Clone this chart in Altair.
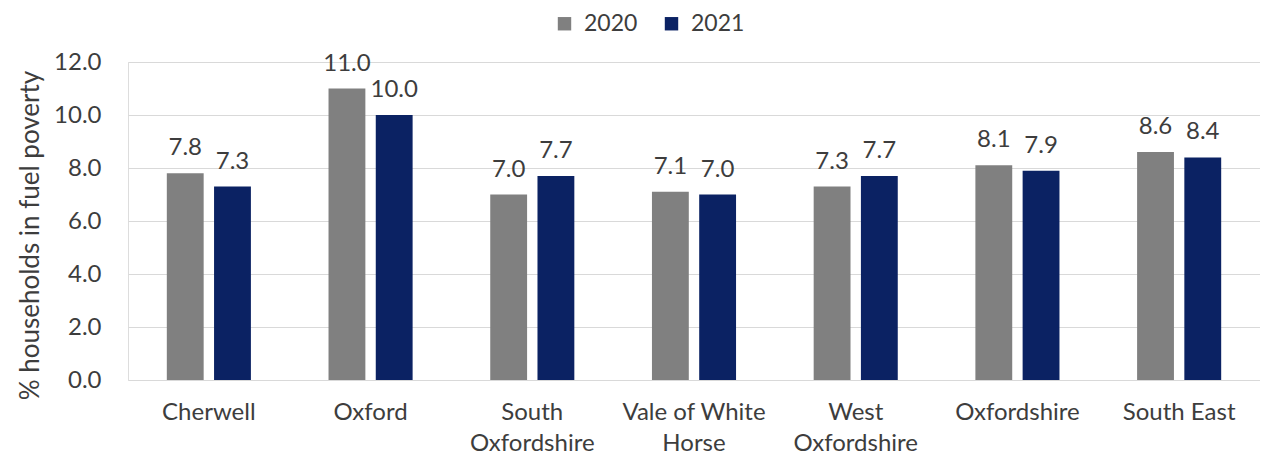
import altair as alt
import pandas as pd

categories = ["Cherwell", "Oxford", "South Oxfordshire", "Vale of White Horse",
              "West Oxfordshire", "Oxfordshire", "South East"]
years = ["2020", "2021"]
values_2020 = [7.8, 11.0, 7.0, 7.1, 7.3, 8.1, 8.6]
values_2021 = [7.3, 10.0, 7.7, 7.0, 7.7, 7.9, 8.4]
y_ticks = [0, 2, 4, 6, 8, 10, 12]

rows = []
for c, a, b in zip(categories, values_2020, values_2021):
    rows.append({"area": c, "year": "2020", "value": a})
    rows.append({"area": c, "year": "2021", "value": b})
df = pd.DataFrame(rows)

FONT = "Lato"
TXT = "#3d3d3d"
label_expr = ("datum.label == 'South Oxfordshire' ? ['South', 'Oxfordshire'] : "
              "datum.label == 'Vale of White Horse' ? ['Vale of White', 'Horse'] : "
              "datum.label == 'West Oxfordshire' ? ['West', 'Oxfordshire'] : datum.label")

x = alt.X("area:N", sort=categories, title=None,
          scale=alt.Scale(paddingInner=0.48, paddingOuter=0.24),
          axis=alt.Axis(labelAngle=0, labelExpr=label_expr, labelFontSize=24,
                        labelFont=FONT, labelColor=TXT, labelPadding=32,
                        labelLineHeight=31, ticks=False, domain=False,
                        labelBaseline="middle"))
xo = alt.XOffset("year:N", sort=years, scale=alt.Scale(paddingInner=0.22))
y = alt.Y("value:Q", title="% households in fuel poverty",
          scale=alt.Scale(domain=[0, 12], nice=False),
          axis=alt.Axis(values=y_ticks, format=".1f", labelFontSize=24, labelFont=FONT,
                        labelColor=TXT, titleFontSize=26, titleFont=FONT,
                        titleColor=TXT, titleFontWeight="normal",
                        titleX=-98, titleY=173, titleAngle=270,
                        titleAlign="center", titleBaseline="middle",
                        ticks=False, domain=False, gridColor="#d9d9d9",
                        labelPadding=27))
color = alt.Color("year:N", sort=years, title=None,
                  scale=alt.Scale(domain=years, range=["#808080", "#0b2263"]),
                  legend=alt.Legend(orient="none", legendX=425, legendY=-50,
                                    direction="horizontal", symbolType="square",
                                    symbolSize=180, labelFontSize=23, labelFont=FONT,
                                    labelColor=TXT, columnPadding=22, labelOffset=8,
                                    symbolStrokeWidth=0, padding=0))

bars = alt.Chart(df).mark_bar().encode(x=x, xOffset=xo, y=y, color=color)
labels = alt.Chart(df).mark_text(baseline="alphabetic", dy=-18, fontSize=24,
                                 font=FONT, color=TXT).encode(
    x=alt.X("area:N", sort=categories),
    xOffset=alt.XOffset("year:N", sort=years),
    y="value:Q",
    text=alt.Text("value:Q", format=".1f"))

chart = (bars + labels).properties(
    width=1132, height=318,
    autosize=alt.AutoSizeParams(type="none"),
    padding={"left": 120, "top": 54, "right": 0, "bottom": 74},
).configure_view(stroke=None).configure(background="white")

chart.save("out.html", embed_options={"renderer": "svg", "actions": False})
